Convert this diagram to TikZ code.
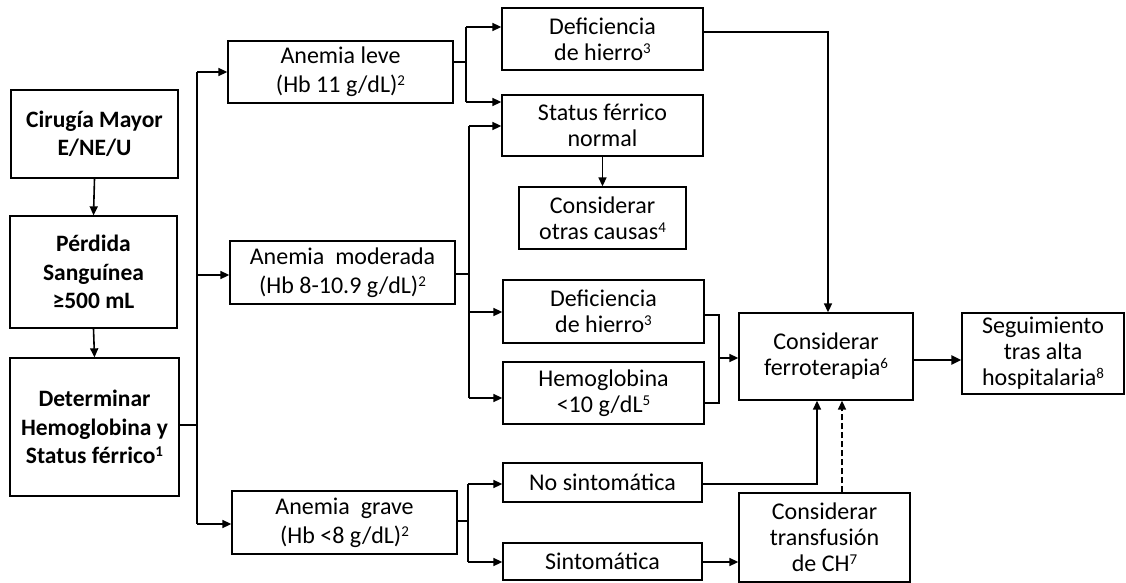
\documentclass[tikz,border=0pt]{standalone}
\usepackage{fontspec}
\setmainfont{Carlito}
\usetikzlibrary{arrows.meta}
\newcommand\sps[1]{\raisebox{0.3em}{\fontsize{15}{15}\selectfont #1}}
\begin{document}
\begin{tikzpicture}[x=1pt,y=-1pt,
  box/.style={draw, line width=1.3pt, align=center, inner sep=0pt, font=\fontsize{24}{26}\selectfont},
  bbox/.style={box, font=\fontsize{23.5}{28.5}\selectfont\bfseries},
  abox/.style={box, font=\fontsize{24}{29}\selectfont},
  arr/.style={line width=1.6pt, -{Triangle[length=9pt,width=8pt]}},
  ln/.style={line width=1.6pt}]
\useasboundingbox (0,0) rectangle (1126,583);
% left column
\node[bbox, minimum width=167pt, minimum height=88pt] (A) at (94.5,134) {Cirugía Mayor\\E/NE/U};
\node[bbox, minimum width=167pt, minimum height=112pt] (B) at (93.5,272) {Pérdida\\Sanguínea\\≥500 mL};
\node[bbox, minimum width=169pt, minimum height=138pt] (C) at (94.5,427) {Determinar\\Hemoglobina y\\Status férrico\sps{1}};
% anemia boxes
\node[abox, minimum width=225pt, minimum height=62pt] (leve) at (340.5,72) {Anemia leve\\(Hb 11 g/dL)\sps{2}};
\node[abox, minimum width=225pt, minimum height=63pt] (mod) at (342.5,272.5) {Anemia\ \ moderada\\(Hb 8-10.9 g/dL)\sps{2}};
\node[abox, minimum width=225pt, minimum height=63pt] (grave) at (344.5,522.5) {Anemia\ \ grave\\(Hb <8 g/dL)\sps{2}};
% middle column
\node[box, minimum width=201pt, minimum height=62pt] (def1) at (602.5,39) {Deficiencia\\de hierro\sps{3}};
\node[box, minimum width=201pt, minimum height=61pt] (sfn) at (602.5,125.5) {Status férrico\\normal};
\node[box, minimum width=167pt, minimum height=62pt] (otras) at (602.5,218) {Considerar\\otras causas\sps{4}};
\node[box, minimum width=201pt, minimum height=63pt] (def2) at (603.5,311.5) {Deficiencia\\de hierro\sps{3}};
\node[box, minimum width=201pt, minimum height=62pt] (hb) at (603.5,393) {Hemoglobina\\<10 g/dL\sps{5}};
\node[box, minimum width=199pt, minimum height=39pt] (nosint) at (602.5,482.5) {No sintomática};
\node[box, minimum width=199pt, minimum height=37pt] (sint) at (602.5,561.5) {Sintomática};
% right column
\node[box, minimum width=174pt, minimum height=87pt] (ferro) at (826,356.5) {Considerar\\ferroterapia\sps{6}};
\node[box, minimum width=162pt, minimum height=81pt] (seg) at (1043,353.5) {Seguimiento\\tras alta\\hospitalaria\sps{8}};
\node[box, minimum width=171pt, minimum height=89pt] (trans) at (824.5,537.5) {Considerar\\transfusión\\de CH\sps{7}};
% coordinates
\coordinate (j1) at (197,425);
\coordinate (j2) at (466,62);
\coordinate (j3) at (469,274);
\coordinate (j4) at (468,521);
\coordinate (j5) at (719,358);
% left column arrows
\draw[arr] (A.south) -- (B.north);
\draw[arr] (B.south) -- (C.north);
% C to anemia
\draw[ln] (C.east |- j1) -- (j1);
\draw[ln] (j1 |- 0,72) -- (j1 |- 0,524);
\draw[arr] (j1 |- 0,72) -- (leve.west |- 0,72);
\draw[arr] (j1 |- 0,275) -- (mod.west |- 0,275);
\draw[arr] (j1 |- 0,524) -- (grave.west |- 0,524);
% leve
\draw[ln] (leve.east |- j2) -- (j2);
\draw[ln] (j2 |- 0,27) -- (j2 |- 0,102);
\draw[arr] (j2 |- 0,27) -- (def1.west |- 0,27);
\draw[arr] (j2 |- 0,102) -- (sfn.west |- 0,102);
% moderada
\draw[ln] (mod.east |- j3) -- (j3);
\draw[ln] (j3 |- 0,126) -- (j3 |- 0,398);
\draw[arr] (j3 |- 0,126) -- (sfn.west |- 0,126);
\draw[arr] (j3 |- 0,312) -- (def2.west |- 0,312);
\draw[arr] (j3 |- 0,398) -- (hb.west |- 0,398);
% grave
\draw[ln] (grave.east |- j4) -- (j4);
\draw[ln] (j4 |- 0,484) -- (j4 |- 0,562);
\draw[arr] (j4 |- 0,484) -- (nosint.west |- 0,484);
\draw[arr] (j4 |- 0,562) -- (sint.west |- 0,562);
% status -> otras
\draw[arr] (sfn.south) -- (otras.north);
% def1 -> ferro
\draw[arr] (def1.east |- 0,32) -| (ferro.north -| 828,0);
% def2 / hb -> ferro
\draw[ln] (def2.east |- 0,315) -| (j5 |- 0,403) -- (hb.east |- 0,403);
\draw[arr] (j5) -- (ferro.west |- j5);
% nosint -> ferro
\draw[arr] (nosint.east |- 0,484) -| (ferro.south -| 817,0);
% sint -> trans
\draw[arr] (sint.east |- 0,562) -- (trans.west |- 0,562);
% trans -> ferro dashed
\draw[arr, dashed, dash pattern=on 6pt off 3pt] (trans.north -| 842,0) -- (ferro.south -| 842,0);
% ferro -> seg
\draw[line width=2.4pt, -{Triangle[length=10pt,width=9pt]}] (ferro.east |- 0,360) -- (seg.west |- 0,360);
\end{tikzpicture}
\end{document}
